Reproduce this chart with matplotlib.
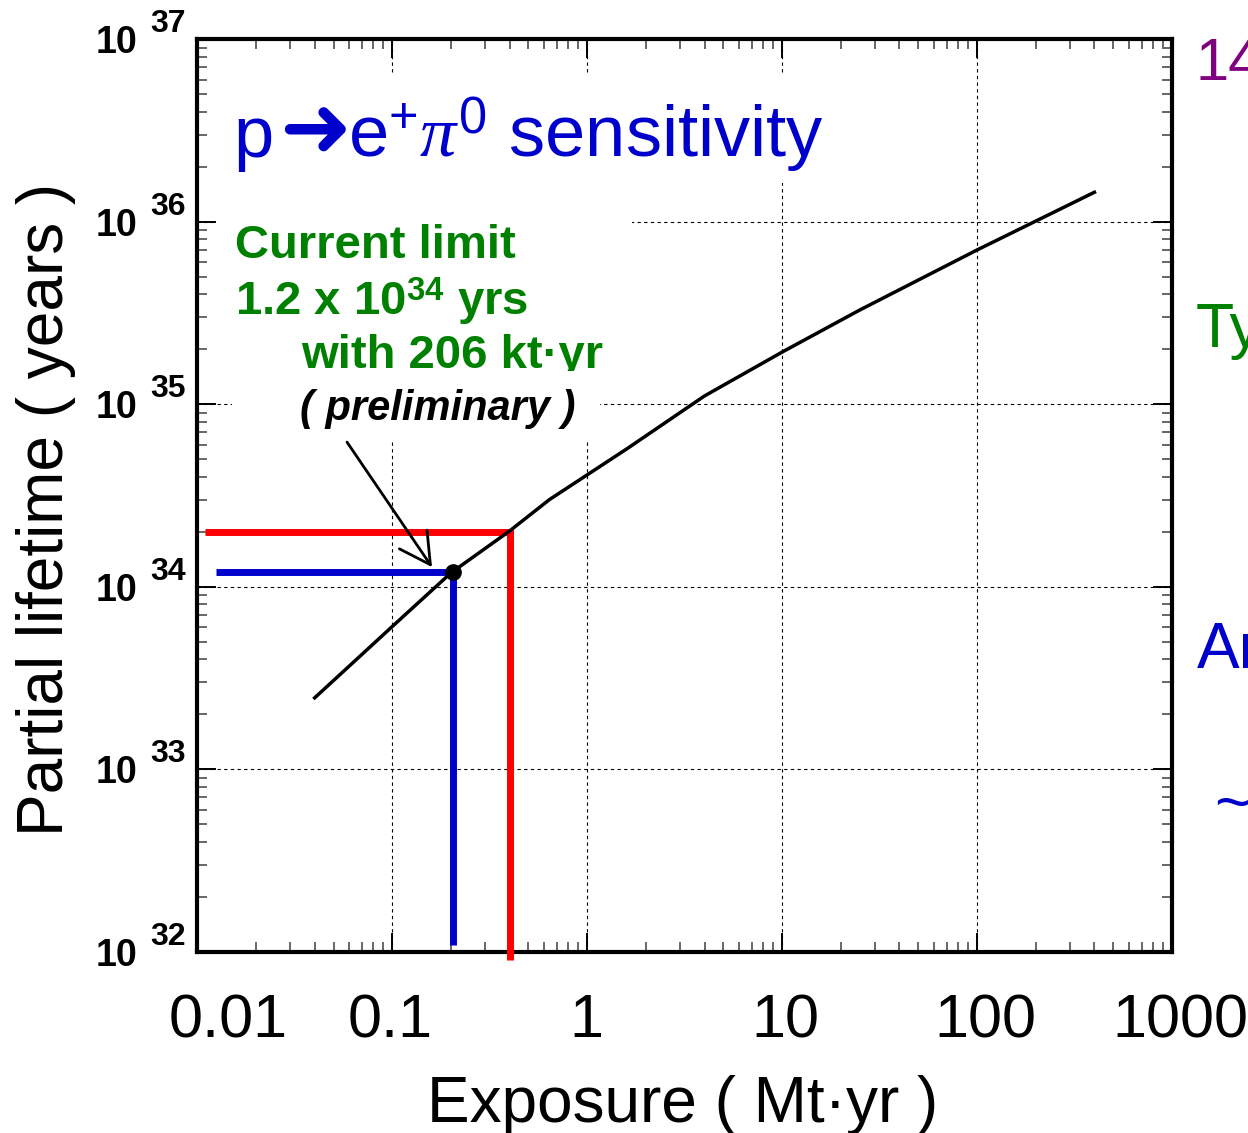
import matplotlib
matplotlib.use("Agg")
import matplotlib.pyplot as plt
from matplotlib.patches import Rectangle
from matplotlib.ticker import LogLocator, NullFormatter
from matplotlib.transforms import offset_copy, ScaledTranslation, Bbox, TransformedBbox

plt.rcParams['font.family'] = ['Liberation Sans', 'DejaVu Sans']
plt.rcParams['mathtext.fontset'] = 'custom'
plt.rcParams['mathtext.rm'] = 'Liberation Sans'
plt.rcParams['mathtext.it'] = 'Liberation Serif:italic'
plt.rcParams['mathtext.bf'] = 'Liberation Sans:bold'

# sensitivity curve: exposure (Mt-yr) vs partial lifetime (years)
exposure = [0.04, 0.1, 0.2, 0.4, 0.64, 1.6, 4, 10, 25, 100, 400]
lifetime = [2.46e33, 6.05e33, 1.19e34, 2.02e34, 3.0e34, 5.7e34, 1.11e35, 1.93e35, 3.28e35, 7.0e35, 1.45e36]

# current limit (206 kt-yr, 1.2e34 yrs)
current_exp = 0.206
current_life = 1.2e34
blue_xmin = 0.0125
blue_ymin = 1.09e32

# red reach line
red_exp = 0.40
red_life = 2.0e34
red_xmin = 0.011
red_ymin = 9.0e31

# arrow from the label to the point
arrow_from = (0.0586, 6.2e34)
arrow_to = (0.160, 1.28e34)

xticks = [0.01, 0.1, 1, 10, 100, 1000]
xtick_labels = ['0.01', '0.1', '1', '10', '100', '1000']
xlabel_shift = [22, -1.5, -0.7, 2, 6, 6]   # points
ytick_exps = [32, 33, 34, 35, 36, 37]

W, H = 1248, 1133


def fx(px):
    return px / W


def fy(py):
    return 1 - py / H


fig = plt.figure(figsize=(W / 100, H / 100), dpi=100)
ax = fig.add_axes([fx(197.3), fy(951.7), 974.7 / W, 912.5 / H])
ax.set_xscale('log')
ax.set_yscale('log')
ax.set_xlim(0.01, 1000)
ax.set_ylim(1e32, 1e37)

for s in ax.spines.values():
    s.set_linewidth(3)

ax.set_axisbelow(True)
ax.grid(True, which='major', linestyle=(0, (3, 3)), linewidth=0.8, color='black')

ax.xaxis.set_minor_locator(LogLocator(base=10, subs=range(2, 10), numticks=30))
ax.yaxis.set_minor_locator(LogLocator(base=10, subs=range(2, 10), numticks=30))
ax.xaxis.set_minor_formatter(NullFormatter())
ax.yaxis.set_minor_formatter(NullFormatter())
ax.tick_params(which='both', direction='in', top=True, right=True)
ax.tick_params(which='major', length=14, width=1.4, color='black')
ax.tick_params(which='minor', length=7, width=1.4, color='0.4')

ax.set_xticks(xticks)
ax.set_xticklabels(xtick_labels, fontsize=44)
ax.tick_params(axis='x', which='major', pad=30)
for lbl, dx in zip(ax.get_xticklabels(), xlabel_shift):
    lbl.set_transform(lbl.get_transform() + ScaledTranslation(dx / 72, 0, fig.dpi_scale_trans))

ax.set_yticks([10.0 ** e for e in ytick_exps])
ax.set_yticklabels([])
base_tr = offset_copy(ax.get_yaxis_transform(), fig=fig, y=-10, units='points')
exp_tr = offset_copy(ax.get_yaxis_transform(), fig=fig, y=5, units='points')
for e in ytick_exps:
    ax.text(-0.0619, 10.0 ** e, '10', transform=base_tr, ha='right', va='baseline',
            fontsize=27, fontweight='bold', clip_on=False)
    ax.text(-0.0483, 10.0 ** e, str(e), transform=exp_tr, ha='left', va='baseline',
            fontsize=23, fontweight='bold', clip_on=False)

# white boxes behind the text blocks (hide the grid there)
for x0, y0, x1, y1 in [(230, 73, 860, 183), (216, 183, 632, 390), (232, 390, 600, 440)]:
    ax.add_patch(Rectangle((fx(x0), fy(y1)), fx(x1) - fx(x0), fy(y0) - fy(y1),
                           transform=fig.transFigure, facecolor='white',
                           edgecolor='none', zorder=1))

blue = '#0000CC'
red = '#FF0000'
green = '#008000'

ax.plot([red_xmin, red_exp, red_exp], [red_life, red_life, red_ymin], color=red,
        lw=5, clip_on=False, solid_joinstyle='miter', solid_capstyle='butt', zorder=3)
ax.plot([blue_xmin, current_exp, current_exp], [current_life, current_life, blue_ymin],
        color=blue, lw=5, solid_joinstyle='miter', solid_capstyle='butt', zorder=3)
ax.plot(exposure, lifetime, color='black', lw=2.5, zorder=4)
ax.plot(current_exp, current_life, 'o', ms=11, color='black', zorder=5)

ax.annotate('', xy=arrow_to, xytext=arrow_from,
            arrowprops=dict(arrowstyle='->,head_length=1.1,head_width=0.6', lw=2,
                            color='black', mutation_scale=20, shrinkA=0, shrinkB=0),
            zorder=5)

# title
fig.text(fx(233), fy(157), 'p', color=blue, fontsize=52, va='baseline')
fig.text(fx(279), fy(157), '\u279c', color=blue, fontsize=62, va='baseline',
         family='DejaVu Sans')
fig.text(fx(348), fy(157), r'e$^{+}\pi^{0}$ sensitivity', color=blue, fontsize=52,
         va='baseline')

# current limit text
fig.text(fx(235), fy(258), 'Current limit', color=green, fontsize=34,
         fontweight='bold', va='baseline')
fig.text(fx(235), fy(315), r'1.2 x 10$^{\mathbf{34}}$ yrs', color=green, fontsize=34,
         fontweight='bold', va='baseline')
t = fig.text(fx(301), fy(368), 'with 206 kt\u00b7yr', color=green, fontsize=34,
             fontweight='bold', va='baseline')
t.set_clip_box(TransformedBbox(Bbox([[0, fy(371)], [1, 1]]), fig.transFigure))
fig.text(fx(300), fy(420), '( preliminary )', color='black', fontsize=30,
         fontweight='bold', fontstyle='italic', va='baseline')

# axis labels
fig.text(fx(683), fy(1122), 'Exposure ( Mt\u00b7yr )', ha='center', va='baseline',
         fontsize=46)
fig.text(fx(46), fy(509), 'Partial lifetime ( years )', rotation=90, ha='center',
         va='center', fontsize=46)

# text from the neighbouring slide column, cut at the edge
fig.text(fx(1195), fy(80), '14', color='#800080', fontsize=43, va='baseline')
fig.text(fx(1196), fy(347), 'Ty', color=green, fontsize=45, va='baseline')
fig.text(fx(1197), fy(668), 'Ar', color=blue, fontsize=46, va='baseline')
fig.text(fx(1214), fy(824), '~', color=blue, fontsize=46, va='baseline')

fig.savefig('out.png', dpi=100)
